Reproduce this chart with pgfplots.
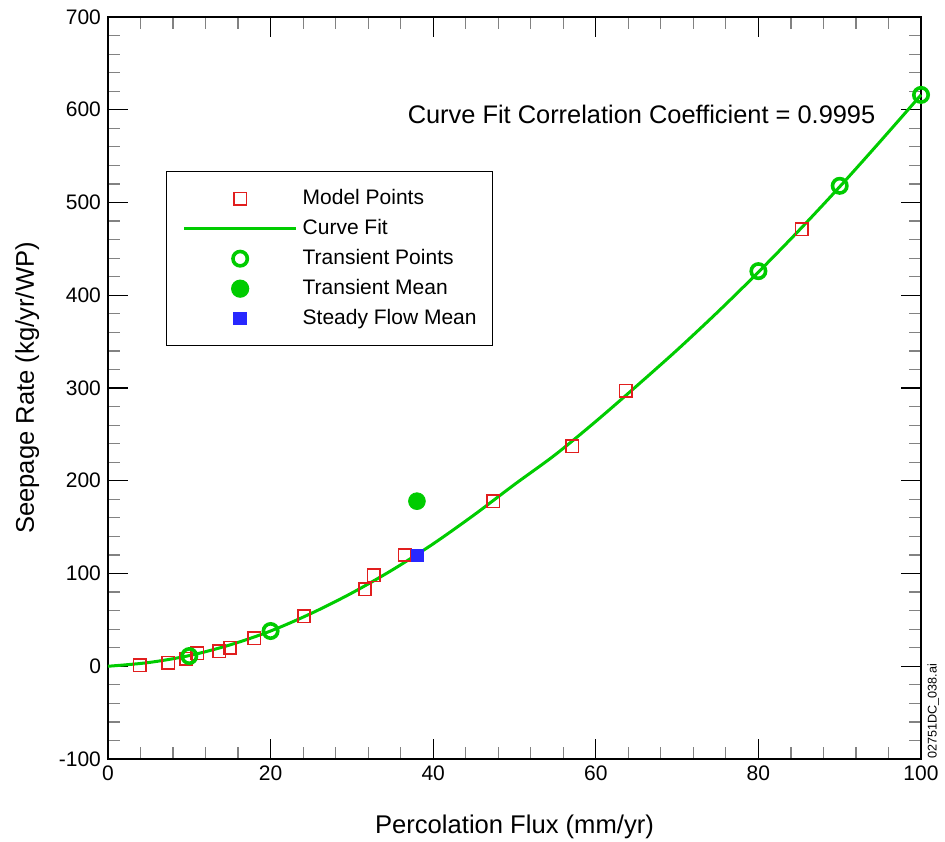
\documentclass[border=0pt]{standalone}
\usepackage{pgfplots}
\pgfplotsset{compat=1.18}
\usepackage{fontspec}
\setmainfont{Liberation Sans}

\definecolor{fitgreen}{RGB}{0,204,0}
\definecolor{ptred}{RGB}{225,30,30}
\definecolor{sfblue}{RGB}{40,40,255}
\definecolor{minorgray}{RGB}{130,130,130}

\begin{document}
\begin{tikzpicture}
  \begin{axis}[
      name=ax,
      scale only axis,
      width=406.5pt, height=371pt,
      xmin=0, xmax=100, ymin=-100, ymax=700,
      xtick={0,20,...,100}, ytick={-100,0,...,700},
      minor tick num=4,
      tick align=inside,
      major tick length=10pt, minor tick length=6pt,
      major tick style={draw=black, line width=0.6pt},
      minor tick style={draw=minorgray, line width=0.6pt},
      axis line style={line width=1pt},
      /pgf/number format/assume math mode=true,
      tick label style={font=\fontsize{10.5}{12}\selectfont},
      label style={font=\fontsize{12.8}{15}\selectfont},
      xlabel={Percolation Flux (mm/yr)},
      ylabel={Seepage Rate (kg/yr/WP)},
      xlabel style={yshift=-10pt},
      ylabel style={yshift=3pt},
      clip=false,
      legend image code/.code={\draw[mark repeat=2,mark phase=2,#1] plot coordinates {(0pt,0pt) (28pt,0pt) (56pt,0pt)};},
      legend cell align=left,
      legend style={
        at={(0.0713,0.7925)}, anchor=north west,
        draw=black, line width=0.7pt,
        inner xsep=8pt, inner ysep=8.5pt,
        font=\fontsize{10.5}{12}\selectfont,
        nodes={inner sep=0pt, text height=8pt, text depth=2pt},
        row sep=5pt,
        /tikz/every odd column/.append style={column sep=2.5pt},
      },
    ]
    % model points
    \addplot[only marks, ptred, mark=square, mark size=3.1pt, mark options={solid, draw=ptred, fill=white, line width=0.8pt}]
      table {
        x    y
        3.9  1
        7.4  4
        9.6  8
        11.0 14
        13.7 16
        15.0 20
        18.0 30
        24.1 54
        31.6 83
        32.7 98
        36.5 120
        47.4 178
        57.1 237
        63.7 297
        85.3 471
      };
    \addlegendentry{Model Points}

    % fitted curve
    \addplot[draw=fitgreen, line width=1.5pt, smooth, no marks]
      coordinates {(0,0) (5,4) (10,11.5) (15,23) (20,38) (25,57) (30,79) (35,104)
                   (40,132) (45,163) (50,196) (55,228) (60,264) (65,302) (70,341)
                   (75,382) (80,425) (85,470) (90,517) (95,566) (100,616)};
    \addlegendentry{Curve Fit}

    \addplot[only marks, draw=fitgreen, mark=o, mark size=3.6pt, mark options={solid, draw=fitgreen, line width=1.8pt}]
      coordinates {(10,11) (20,38) (80,426) (90,518) (100,616)};
    \addlegendentry{Transient Points}

    \addplot[only marks, draw=fitgreen, mark=*, mark size=4.2pt, mark options={draw=fitgreen, fill=fitgreen}]
      coordinates {(38,178)};
    \addlegendentry{Transient Mean}

    \addplot[only marks, draw=sfblue, mark=square*, mark size=3pt, mark options={draw=sfblue, fill=sfblue}]
      coordinates {(38,120)};
    \addlegendentry{Steady Flow Mean}

    \node[anchor=base west, font=\fontsize{12.7}{15}\selectfont] at (axis cs:36,585) {Curve Fit Correlation Coefficient = 0.9995};
    \node[rotate=90, anchor=north west, inner sep=0pt, font=\fontsize{6.3}{7}\selectfont] at ([xshift=3pt]rel axis cs:1,0) {02751DC\_038.ai};
  \end{axis}
  \pgfresetboundingbox
  \path ([shift={(-54pt,-41pt)}]ax.south west) rectangle ([shift={(418.5pt,379.5pt)}]ax.south west);
\end{tikzpicture}
\end{document}
